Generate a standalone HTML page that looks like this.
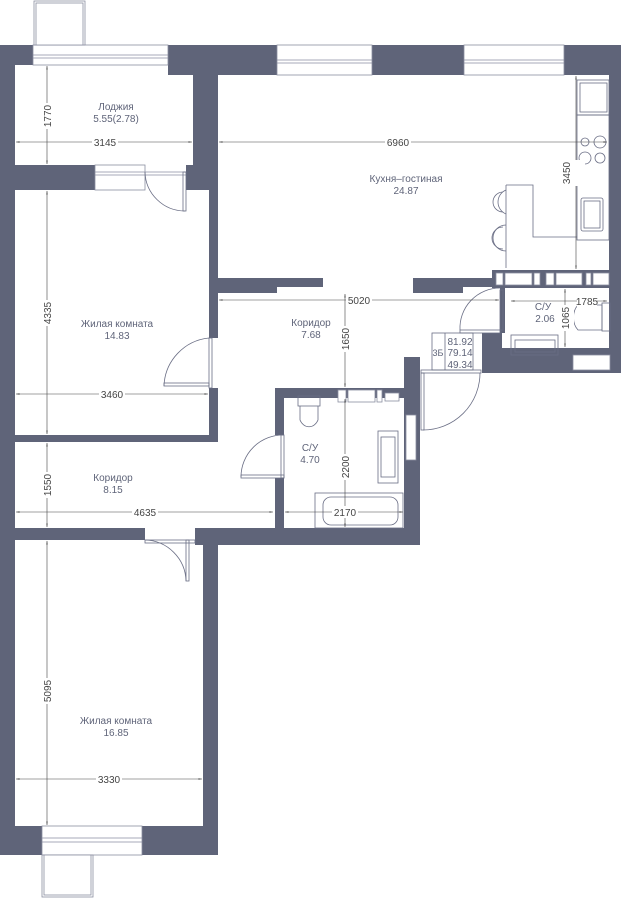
<!DOCTYPE html>
<html><head><meta charset="utf-8"><style>
html,body{margin:0;padding:0;background:#fff;}
svg{display:block;}
text{font-family:"Liberation Sans",sans-serif;}
.lbl{fill:#5f6479;font-size:10px;text-anchor:middle;}
.dim{fill:#444;font-size:10px;text-anchor:middle;}
</style></head><body>
<svg width="621" height="900" viewBox="0 0 621 900" xmlns="http://www.w3.org/2000/svg">
<defs>
<marker id="a" viewBox="0 0 10 10" refX="10" refY="5" markerWidth="6" markerHeight="6" orient="auto-start-reverse"><path d="M0,3 L10,5 L0,7z" fill="#444"/></marker>
</defs>
<g fill="#5f6479">
<!-- top walls -->
<rect x="0" y="45" width="33" height="20"/>
<rect x="168" y="45" width="109" height="30"/>
<rect x="372" y="45" width="92" height="30"/>
<rect x="564" y="45" width="57" height="30"/>
<!-- left wall -->
<rect x="0" y="45" width="15" height="810"/>
<!-- loggia right wall -->
<rect x="193" y="65" width="25" height="125"/>
<!-- loggia bottom wall -->
<rect x="0" y="165" width="95" height="25"/>
<rect x="186" y="165" width="32" height="25"/>
<!-- right wall -->
<rect x="609" y="75" width="12" height="298"/>
<!-- bedroom right wall -->
<rect x="209" y="190" width="9" height="148"/>
<rect x="209" y="388" width="9" height="54"/>
<!-- kitchen bottom walls -->
<rect x="209" y="278" width="114" height="9"/>
<rect x="209" y="278" width="68" height="15"/>
<rect x="413" y="278" width="50" height="15"/>
<rect x="413" y="278" width="85" height="9"/>
<rect x="492" y="270" width="117" height="18"/>
<!-- bedroom1 bottom -->
<rect x="0" y="435" width="218" height="7"/>
<!-- WC small -->
<rect x="500" y="288" width="5" height="45"/>
<rect x="482" y="333" width="20" height="40"/>
<rect x="482" y="348" width="139" height="25"/>
<!-- bathroom walls -->
<rect x="275" y="388" width="140" height="10"/>
<rect x="275" y="388" width="9" height="47"/>
<rect x="275" y="478" width="9" height="60"/>
<rect x="404" y="357" width="16" height="188"/>
<rect x="215" y="528" width="205" height="17"/>
<!-- corridor bottom -->
<rect x="0" y="528" width="145" height="12"/>
<rect x="195" y="528" width="23" height="17"/>
<rect x="203" y="528" width="15" height="327"/>
<!-- bedroom2 bottom -->
<rect x="0" y="826" width="218" height="29"/>
</g>
<g fill="#fff" stroke="#8a8ea0" stroke-width="0.8">
<!-- windows -->
<rect x="33" y="45" width="135" height="20"/><line x1="33" y1="55" x2="168" y2="55"/><line x1="33" y1="58" x2="168" y2="58"/>
<rect x="277" y="45" width="95" height="30"/><line x1="277" y1="60" x2="372" y2="60"/><line x1="277" y1="63" x2="372" y2="63"/>
<rect x="464" y="45" width="100" height="30"/><line x1="464" y1="60" x2="564" y2="60"/><line x1="464" y1="63" x2="564" y2="63"/>
<rect x="95" y="165" width="50" height="25"/><line x1="95" y1="172" x2="186" y2="172"/><line x1="95" y1="175" x2="186" y2="175"/>
<rect x="42" y="826" width="100" height="29"/><line x1="42" y1="838" x2="142" y2="838"/><line x1="42" y1="842" x2="142" y2="842"/>
<!-- balconies -->
<rect x="34" y="1" width="51" height="44"/><rect x="36" y="3" width="47" height="42"/>
<rect x="42" y="855" width="51" height="42"/><rect x="44" y="855" width="47" height="40"/>
<!-- shelf slots -->
<rect x="496" y="273" width="7" height="12"/><rect x="505" y="273" width="27" height="12"/><rect x="534" y="273" width="6" height="12"/><rect x="546" y="273" width="8" height="12"/><rect x="556" y="273" width="26" height="12"/><rect x="586" y="273" width="5" height="12"/><rect x="593" y="273" width="16" height="12"/>
<rect x="573" y="355" width="37" height="15"/>
<rect x="338" y="390" width="8" height="12"/><rect x="348" y="390" width="27" height="12"/><rect x="377" y="390" width="5" height="12"/><rect x="385" y="393" width="14" height="8"/>
<rect x="406" y="415" width="10" height="45"/>
</g>
<!-- doors -->
<g fill="none" stroke="#6a6e85" stroke-width="0.8">
<path d="M145 172 A40 40 0 0 0 185 211"/><rect x="183" y="172" width="3" height="39"/>
<path d="M209 338 A50 50 0 0 0 164 386"/><rect x="164" y="383" width="45" height="3"/><rect x="209" y="338" width="3" height="50"/>
<path d="M284 435 A42 42 0 0 0 241 477"/><rect x="241" y="475" width="43" height="3"/><rect x="281" y="435" width="3" height="43"/>
<path d="M145 540 A42 42 0 0 1 186 581"/><rect x="186" y="540" width="3" height="41"/><rect x="145" y="540" width="50" height="3"/>
<path d="M500 288 A40 40 0 0 0 460 330"/><rect x="460" y="330" width="40" height="3"/><rect x="500" y="290" width="3" height="40"/>
<path d="M480 373 A57 57 0 0 1 423 430"/><rect x="421" y="373" width="3" height="57"/><rect x="421" y="370" width="60" height="3"/>
<!-- kitchen -->
<rect x="577" y="80" width="32" height="35"/><rect x="580" y="83" width="27" height="29"/>
<rect x="577" y="115" width="32" height="125"/>
<circle cx="585" cy="142" r="4"/><circle cx="600" cy="142" r="6"/><circle cx="585" cy="158" r="6"/><circle cx="600" cy="158" r="5"/>
<rect x="581" y="198" width="22" height="33" rx="2"/><rect x="584" y="201" width="16" height="27"/>
<path d="M506 185 H533 V237 H577"/><path d="M506 185 V268"/>
<path d="M506 190 A13 13 0 0 0 506 214"/><path d="M503 192 A10 10 0 0 0 503 212"/>
<path d="M506 225 A13 13 0 0 0 506 251"/><path d="M503 227 A10 10 0 0 0 503 249"/>
<!-- WC small fixtures -->
<path d="M602 305 H578 A12 16 0 0 0 578 330 H602 Z"/><rect x="602" y="303" width="8" height="28"/>
<rect x="511" y="335" width="47" height="20"/><rect x="515" y="340" width="40" height="12"/>
<!-- bathroom fixtures -->
<rect x="298" y="396" width="22" height="10"/><path d="M300 406 V420 A10 12 0 0 0 318 420 V406"/>
<rect x="378" y="431" width="20" height="52"/><rect x="381" y="437" width="14" height="40"/>
<rect x="315" y="493" width="88" height="35"/><rect x="323" y="497" width="75" height="28" rx="8"/>
<!-- info box -->
<rect x="432" y="333" width="41" height="37"/><line x1="445" y1="333" x2="445" y2="370"/>
</g>
<!-- dimension lines -->
<g stroke="#444" stroke-width="0.6" fill="none">
<line x1="47" y1="66" x2="47" y2="164" marker-start="url(#a)" marker-end="url(#a)"/>
<line x1="16" y1="142" x2="192" y2="142" marker-start="url(#a)" marker-end="url(#a)"/>
<line x1="219" y1="142" x2="607" y2="142" marker-start="url(#a)" marker-end="url(#a)"/>
<line x1="576" y1="76" x2="576" y2="269" marker-start="url(#a)" marker-end="url(#a)"/>
<line x1="47" y1="191" x2="47" y2="434" marker-start="url(#a)" marker-end="url(#a)"/>
<line x1="16" y1="394" x2="208" y2="394" marker-start="url(#a)" marker-end="url(#a)"/>
<line x1="219" y1="300" x2="499" y2="300" marker-start="url(#a)" marker-end="url(#a)"/>
<line x1="345" y1="294" x2="345" y2="387" marker-start="url(#a)" marker-end="url(#a)"/>
<line x1="511" y1="301" x2="607" y2="301" marker-start="url(#a)" marker-end="url(#a)"/>
<line x1="565" y1="289" x2="565" y2="347" marker-start="url(#a)" marker-end="url(#a)"/>
<line x1="345" y1="399" x2="345" y2="527" marker-start="url(#a)" marker-end="url(#a)"/>
<line x1="285" y1="512" x2="403" y2="512" marker-start="url(#a)" marker-end="url(#a)"/>
<line x1="47" y1="443" x2="47" y2="527" marker-start="url(#a)" marker-end="url(#a)"/>
<line x1="16" y1="512" x2="273" y2="512" marker-start="url(#a)" marker-end="url(#a)"/>
<line x1="47" y1="541" x2="47" y2="825" marker-start="url(#a)" marker-end="url(#a)"/>
<line x1="16" y1="779" x2="202" y2="779" marker-start="url(#a)" marker-end="url(#a)"/>
</g>
<g class="dim">
<rect x="38" y="103" width="18" height="26" fill="#fff"/><text transform="translate(51,116) rotate(-90)">1770</text>
<rect x="92" y="136" width="26" height="12" fill="#fff"/><text x="105" y="146">3145</text>
<rect x="385" y="136" width="26" height="12" fill="#fff"/><text x="398" y="146">6960</text>
<rect x="567" y="160" width="18" height="26" fill="#fff"/><text transform="translate(570,173) rotate(-90)">3450</text>
<rect x="38" y="300" width="18" height="26" fill="#fff"/><text transform="translate(51,313) rotate(-90)">4335</text>
<rect x="99" y="388" width="26" height="12" fill="#fff"/><text x="112" y="398">3460</text>
<rect x="346" y="294" width="26" height="12" fill="#fff"/><text x="359" y="304">5020</text>
<rect x="336" y="326" width="18" height="26" fill="#fff"/><text transform="translate(349,339) rotate(-90)">1650</text>
<rect x="577" y="295" width="20" height="12" fill="#fff"/><text x="587" y="305">1785</text>
<rect x="556" y="305" width="18" height="26" fill="#fff"/><text transform="translate(569,318) rotate(-90)">1065</text>
<rect x="336" y="454" width="18" height="26" fill="#fff"/><text transform="translate(349,467) rotate(-90)">2200</text>
<rect x="332" y="506" width="26" height="12" fill="#fff"/><text x="345" y="516">2170</text>
<rect x="38" y="472" width="18" height="26" fill="#fff"/><text transform="translate(51,485) rotate(-90)">1550</text>
<rect x="132" y="506" width="26" height="12" fill="#fff"/><text x="145" y="516">4635</text>
<rect x="38" y="678" width="18" height="26" fill="#fff"/><text transform="translate(51,691) rotate(-90)">5095</text>
<rect x="96" y="773" width="26" height="12" fill="#fff"/><text x="109" y="783">3330</text>
</g>
<g class="lbl">
<text x="116" y="110">Лоджия</text><text x="116" y="122">5.55(2.78)</text>
<text x="406" y="182">Кухня–гостиная</text><text x="406" y="194">24.87</text>
<text x="117" y="327">Жилая комната</text><text x="117" y="339">14.83</text>
<text x="311" y="326">Коридор</text><text x="311" y="338">7.68</text>
<text x="543" y="310">С/У</text><text x="545" y="322">2.06</text>
<text x="310" y="451">С/У</text><text x="310" y="463">4.70</text>
<text x="113" y="481">Коридор</text><text x="113" y="493">8.15</text>
<text x="116" y="724">Жилая комната</text><text x="116" y="736">16.85</text>
<text x="438" y="356" font-size="9">3Б</text>
<text x="460" y="345">81.92</text><text x="460" y="356">79.14</text><text x="460" y="368">49.34</text>
</g>
</svg>
</body></html>
